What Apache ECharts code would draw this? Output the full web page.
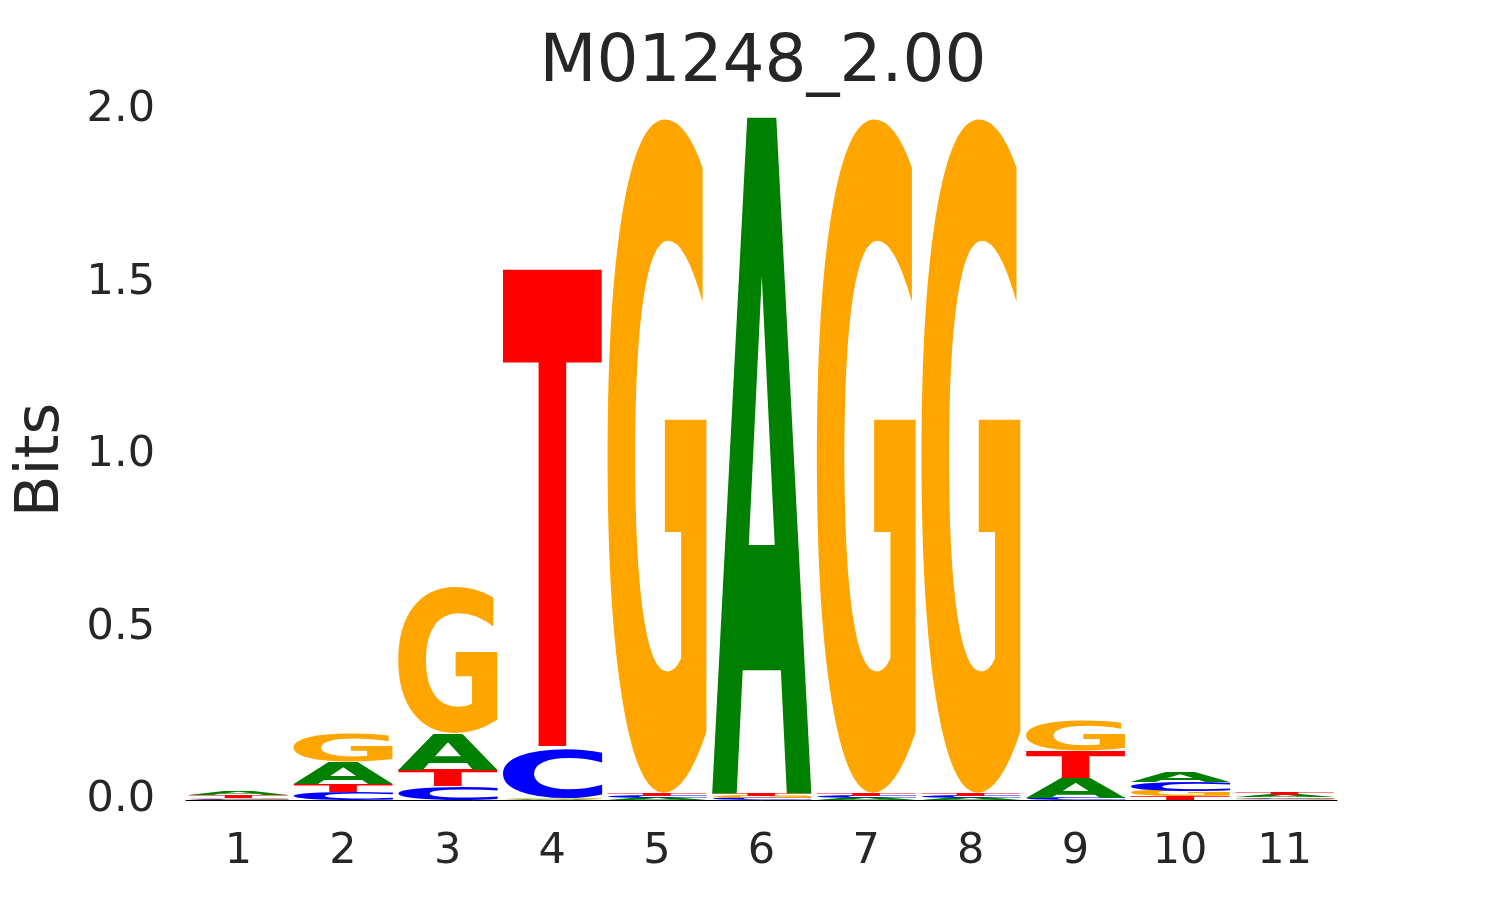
<!DOCTYPE html>
<html>
<head>
<meta charset="utf-8">
<script src="https://cdn.jsdelivr.net/npm/echarts@6/dist/echarts.min.js"></script>
<style>html,body{margin:0;padding:0;background:#fff}#c{width:1485px;height:900px}</style>
</head>
<body>
<div id="c"></div>
<script>
// ---- data (information content in bits, per position and base) ----
const chartTitle = 'M01248_2.00';
const positions = ['1','2','3','4','5','6','7','8','9','10','11'];
const bases = ['A','C','G','T'];
const A = [0.009, 0.065, 0.106, 0.003, 0.006, 1.961, 0.006, 0.006, 0.057, 0.031, 0.006];
const C = [0.002, 0.022, 0.040, 0.140, 0.006, 0.006, 0.006, 0.006, 0.006, 0.026, 0.005];
const G = [0.005, 0.083, 0.423, 0.004, 1.961, 0.006, 1.961, 1.961, 0.085, 0.017, 0.003];
const T = [0.008, 0.024, 0.048, 1.392, 0.007, 0.007, 0.007, 0.007, 0.080, 0.010, 0.007];
const yTicks = [0, 0.5, 1.0, 1.5, 2.0];

const baseValues = {A: A, C: C, G: G, T: T};
const baseColors = {A: '#008000', C: '#0000ff', G: '#ffa500', T: '#ff0000'};

// ---- glyph ink metrics so every letter fills its box ----
const GLYPH_FONT = 'bold 200px "DejaVu Sans"';
const metrics = {};
(function () {
  const cv = document.createElement('canvas');
  const ctx = cv.getContext('2d');
  ctx.font = GLYPH_FONT;
  ctx.textAlign = 'left';
  ctx.textBaseline = 'middle';
  bases.forEach(function (b) {
    const m = ctx.measureText(b);
    metrics[b] = {
      l: m.actualBoundingBoxLeft, r: m.actualBoundingBoxRight,
      a: m.actualBoundingBoxAscent, d: m.actualBoundingBoxDescent
    };
  });
})();

// stack letters per column, smallest at the bottom
const stackData = [];
positions.forEach(function (p, i) {
  const col = bases.map(function (b, bi) { return [bi, baseValues[b][i]]; })
    .sort(function (u, v) { return u[1] - v[1]; });
  let y = 0;
  col.forEach(function (e) {
    stackData.push([i, y, y + e[1], e[0]]);
    y += e[1];
  });
});

function renderItem(params, api) {
  const i = api.value(0), y0 = api.value(1), y1 = api.value(2), bi = api.value(3);
  const ch = bases[bi];
  const bw = api.size([1, 0])[0];
  const p0 = api.coord([i, y0]);
  const p1 = api.coord([i, y1]);
  const w = bw * 0.955;
  const h = p0[1] - p1[1];
  if (!(h > 0)) return null;
  const m = metrics[ch];
  const sx = w / (m.l + m.r);
  const sy = h / (m.a + m.d);
  const rx = p0[0] - w / 2;
  const ry = p1[1];
  return {
    type: 'text',
    x: rx + m.l * sx,
    y: ry + m.a * sy,
    scaleX: sx,
    scaleY: sy,
    silent: true,
    style: {
      text: ch, x: 0, y: 0, font: GLYPH_FONT, fill: baseColors[ch],
      align: 'left', verticalAlign: 'middle'
    }
  };
}

const chart = echarts.init(document.getElementById('c'), null, {renderer: 'canvas'});
chart.setOption({
  animation: false,
  backgroundColor: '#ffffff',
  textStyle: {fontFamily: '"DejaVu Sans"'},
  title: {
    text: chartTitle, left: 758, top: 26, textAlign: 'center',
    textStyle: {fontSize: 66, fontWeight: 'normal', color: '#262626', fontFamily: '"DejaVu Sans"'}
  },
  grid: {left: 186, right: 148, top: 110, bottom: 100, containLabel: false},
  xAxis: {
    type: 'category', data: positions,
    axisLine: {show: true, lineStyle: {color: '#000000', width: 1}},
    axisTick: {show: false},
    splitLine: {show: false},
    axisLabel: {fontSize: 43, color: '#262626', margin: 30}
  },
  yAxis: {
    type: 'value', min: yTicks[0], max: yTicks[yTicks.length - 1], interval: 0.5,
    name: 'Bits', nameLocation: 'middle', nameRotate: 90, nameGap: 113,
    nameTextStyle: {fontSize: 61, color: '#262626', padding: [0, 10, 0, 0]},
    axisLine: {show: false}, axisTick: {show: false}, splitLine: {show: false},
    axisLabel: {fontSize: 43, color: '#262626', margin: 31, padding: [4, 0, 0, 0],
      formatter: function (v) { return v.toFixed(1); }}
  },
  series: [{
    type: 'custom', coordinateSystem: 'cartesian2d',
    renderItem: renderItem,
    encode: {x: 0, y: [1, 2]},
    data: stackData,
    clip: false
  }]
});
</script>
</body>
</html>
